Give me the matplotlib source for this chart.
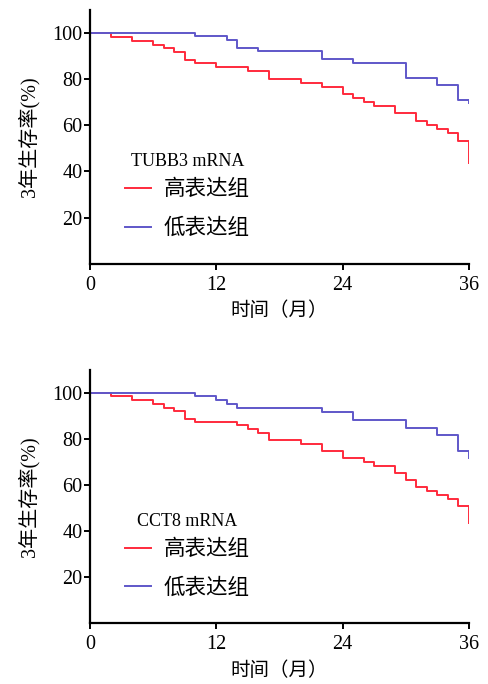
#!/usr/bin/env python
"""
Kaplan-Meier style 3-year survival curves, TUBB3 and CCT8 mRNA groups
"""
import matplotlib
matplotlib.use('Agg')
import matplotlib.pyplot as plt

plt.rcParams['font.family'] = ['Liberation Serif', 'Noto Sans CJK SC']

# step times (months) and survival (%) after each step
tubb3_high_t = [0, 2, 4, 6, 7, 8, 9, 10, 12, 15, 17, 20, 22, 24, 25, 26, 27, 29, 31, 32, 33, 34, 35, 36]
tubb3_high_s = [100, 98.3, 96.4, 94.9, 93.2, 91.6, 88.2, 86.7, 85.0, 83.5, 79.9, 78.3, 76.6, 73.4,
                71.8, 70.1, 68.4, 65.1, 61.7, 60.0, 58.3, 56.5, 53.2, 43.7]
tubb3_low_t = [0, 10, 13, 14, 16, 22, 25, 30, 33, 35, 36]
tubb3_low_s = [100, 98.7, 96.8, 93.5, 91.9, 88.7, 87.1, 80.6, 77.3, 71.1, 69.8]

cct8_high_t = [0, 2, 4, 6, 7, 8, 9, 10, 14, 15, 16, 17, 20, 22, 24, 26, 27, 29, 30, 31, 32, 33, 34, 35, 36]
cct8_high_s = [100, 98.7, 96.8, 95.4, 93.6, 92.1, 88.9, 87.4, 86.0, 84.3, 82.7, 79.4, 77.9, 74.9,
               71.6, 70.1, 68.2, 65.1, 62.2, 59.0, 57.4, 55.8, 53.9, 50.9, 43.4]
cct8_low_t = [0, 10, 12, 13, 14, 22, 25, 30, 33, 35, 36]
cct8_low_s = [100, 98.6, 96.8, 95.1, 93.4, 91.8, 88.4, 84.8, 81.7, 74.9, 71.8]

group_labels = ['高表达组', '低表达组']
x_ticks = [0, 12, 24, 36]
y_ticks = [20, 40, 60, 80, 100]
red = '#ff2a3c'
blue = '#5f57c9'


def panel(ax, high_t, high_s, low_t, low_s, title):
    ax.step(high_t, high_s, where='post', color=red, lw=1.4, label=group_labels[0])
    ax.step(low_t, low_s, where='post', color=blue, lw=1.4, label=group_labels[1])
    ax.set_xlim(0, 36)
    ax.set_ylim(0, 110)
    ax.set_xticks(x_ticks)
    ax.set_yticks(y_ticks)
    for s in ['top', 'right']:
        ax.spines[s].set_visible(False)
    for s in ['left', 'bottom']:
        ax.spines[s].set_linewidth(1.6)
    ax.spines['bottom'].set_bounds(0, 36)
    ax.tick_params(direction='out', length=4.5, width=1.4, labelsize=14.5)
    ax.tick_params(axis='y', pad=1)
    ax.tick_params(axis='x', pad=4)
    ax.set_xlabel('时间（月）', fontsize=14, labelpad=5)
    ax.set_ylabel('3年生存率(%)', fontsize=14.5, labelpad=9)
    leg = ax.legend(title=title, loc='upper left', bbox_to_anchor=(0.092, 0.435),
                    frameon=False, fontsize=15.5, title_fontsize=13,
                    handlelength=1.2, handletextpad=0.6, labelspacing=0.85,
                    borderpad=0, borderaxespad=0)
    leg._legend_box.sep = 7
    for ln in leg.get_lines():
        ln.set_linewidth(1.4)


fig = plt.figure(figsize=(4.89, 6.84), dpi=100)
ax1 = fig.add_axes([0.184, 0.614, 0.775, 0.372])
ax2 = fig.add_axes([0.184, 0.089, 0.775, 0.370])
panel(ax1, tubb3_high_t, tubb3_high_s, tubb3_low_t, tubb3_low_s, 'TUBB3 mRNA')
panel(ax2, cct8_high_t, cct8_high_s, cct8_low_t, cct8_low_s, 'CCT8 mRNA')

plt.savefig('out.png', dpi=100)
